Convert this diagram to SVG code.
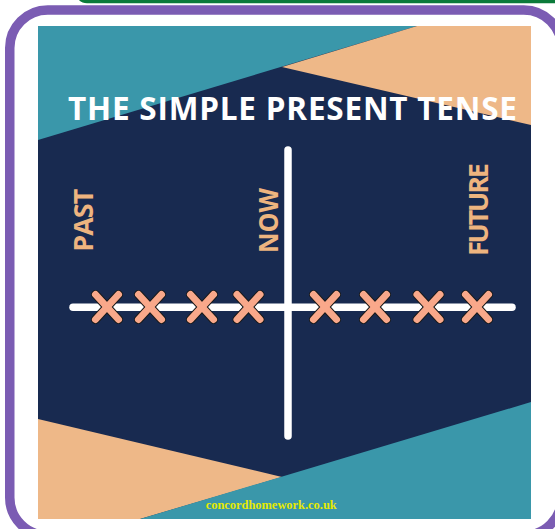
<svg xmlns="http://www.w3.org/2000/svg" width="555" height="529" viewBox="0 0 555 529">
  <style>
    .title { font-family: "Open Sans", "Lato", sans-serif; font-weight: bold; fill: #ffffff; }
    .lbl { font-family: "Open Sans", "Lato", sans-serif; font-weight: bold; fill: #eeb47f; }
    .site { font-family: "Liberation Serif", serif; font-weight: bold; fill: #e6ea00; }
    .axis { stroke: #ffffff; stroke-width: 7.5; stroke-linecap: round; fill: none; }
    .xo { stroke: #1a1a1a; stroke-width: 9; stroke-linecap: round; }
    .xi { stroke: #f9a88a; stroke-width: 7; stroke-linecap: round; }
  </style>
  <defs>
    <g id="cross">
      <line class="xo" x1="-11.5" y1="-12.5" x2="11.5" y2="12.5"/>
      <line class="xo" x1="11.5" y1="-12.5" x2="-11.5" y2="12.5"/>
      <line class="xi" x1="-11.5" y1="-12.5" x2="11.5" y2="12.5"/>
      <line class="xi" x1="11.5" y1="-12.5" x2="-11.5" y2="12.5"/>
    </g>
  </defs>
  <rect width="555" height="529" fill="#ffffff"/>
  <g id="top-tab">
    <rect x="77" y="-40" width="520" height="41.5" rx="10" fill="#ffffff" stroke="#0b7a3a" stroke-width="3.5"/>
  </g>
  <g id="frame">
    <rect x="9.75" y="10" width="552" height="525.5" rx="38" fill="#ffffff" stroke="#7b5cb3" stroke-width="9.5"/>
  </g>
  <g id="poster">
    <rect x="38" y="26" width="493" height="493" fill="#182a50"/>
    <polygon points="38,26 417,26 38,140" fill="#3a97aa"/>
    <polygon points="417,26 531,26 531,125 282,67" fill="#eeb888"/>
    <polygon points="38,419 282,477 140,519 38,519" fill="#eeb888"/>
    <polygon points="140,519 531,402 531,519" fill="#3a97aa"/>
  </g>
  <g id="title">
    <text class="title" x="68" y="120" font-size="31.5" textLength="449" lengthAdjust="spacing">THE SIMPLE PRESENT TENSE</text>
  </g>
  <g id="connectors">
    <line class="axis" x1="73" y1="307.3" x2="512" y2="307.3"/>
    <line class="axis" x1="288" y1="150" x2="288" y2="436"/>
  </g>
  <g id="crosses">
    <use href="#cross" x="107" y="307"/>
    <use href="#cross" x="150" y="307"/>
    <use href="#cross" x="202" y="307"/>
    <use href="#cross" x="248.5" y="307"/>
    <use href="#cross" x="325" y="307"/>
    <use href="#cross" x="375" y="307"/>
    <use href="#cross" x="428.5" y="307"/>
    <use href="#cross" x="477" y="307"/>
  </g>
  <g id="past">
    <text class="lbl" font-size="27" transform="translate(92.7,251.7) rotate(-90)" textLength="63" lengthAdjust="spacing">PAST</text>
  </g>
  <g id="now">
    <text class="lbl" font-size="27" transform="translate(277.7,253) rotate(-90)" textLength="65" lengthAdjust="spacingAndGlyphs">NOW</text>
  </g>
  <g id="future">
    <text class="lbl" font-size="27" transform="translate(488,256) rotate(-90)" textLength="93" lengthAdjust="spacing">FUTURE</text>
  </g>
  <g id="website">
    <text class="site" x="205.7" y="509" font-size="11.5" textLength="131" lengthAdjust="spacingAndGlyphs">concordhomework.co.uk</text>
  </g>
</svg>
